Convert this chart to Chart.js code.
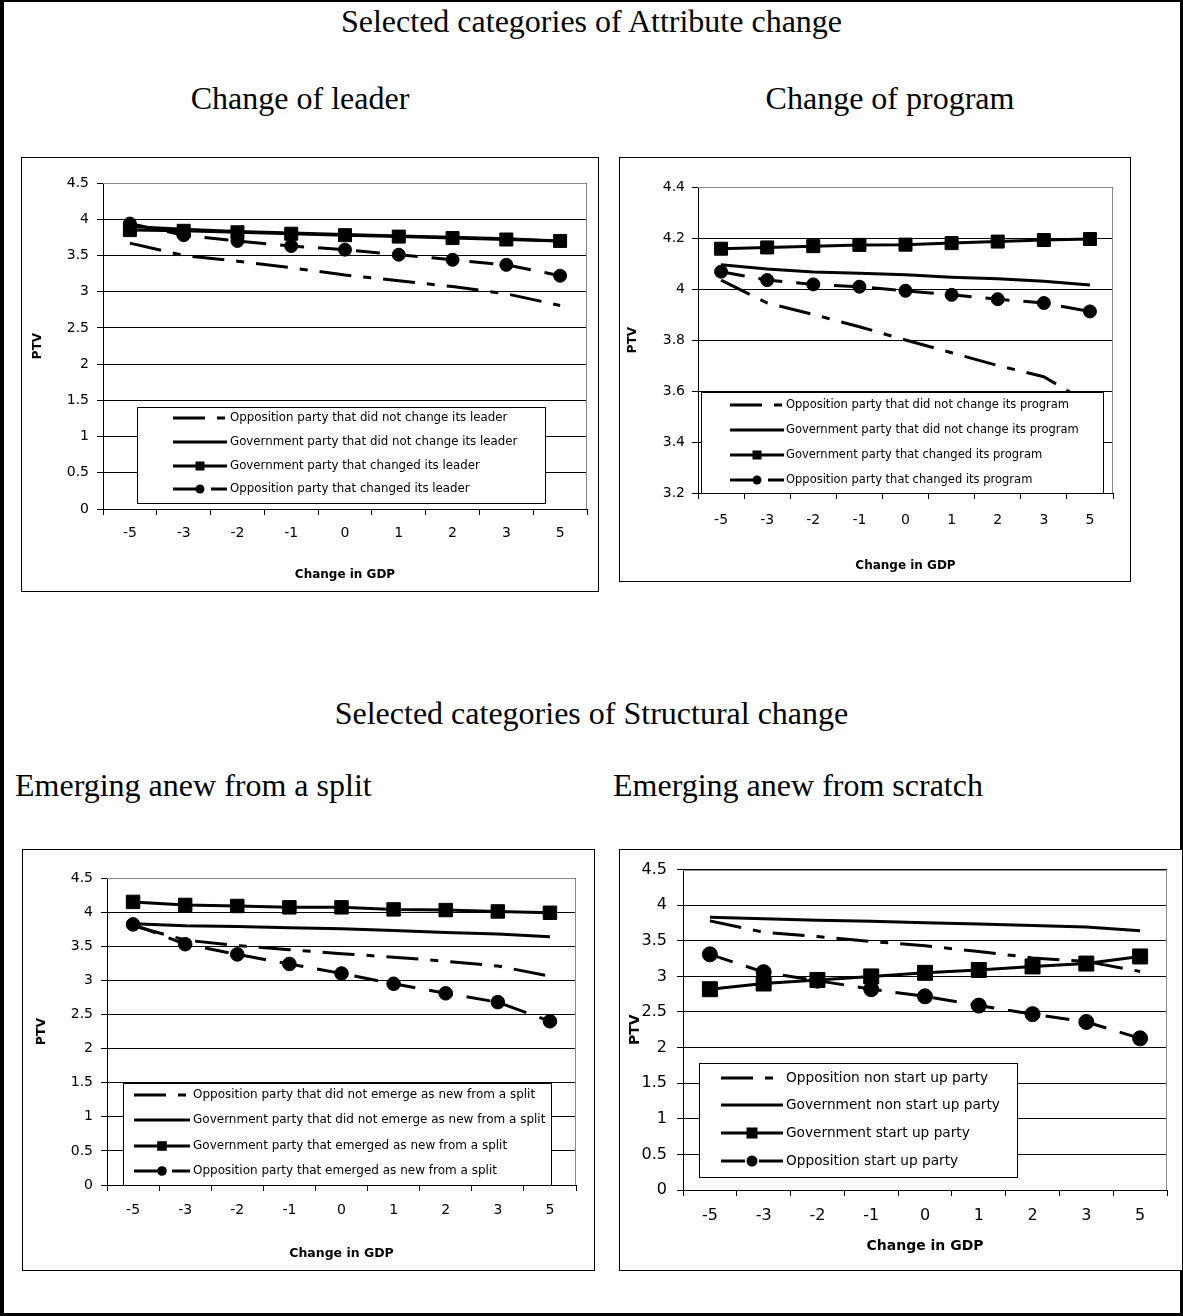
<!DOCTYPE html>
<html>
<head>
<meta charset="utf-8">
<script src="https://cdn.jsdelivr.net/npm/chart.js@4.4.1/dist/chart.umd.min.js"></script>
<style>
  html, body { margin: 0; padding: 0; background: #fff; }
  .page { position: relative; width: 1183px; height: 1316px; overflow: hidden; }
  .frame {
    position: absolute; left: 0; top: 0; width: 1183px; height: 1316px;
    box-sizing: border-box; border-style: solid; border-color: #000;
    border-width: 2px 3px 3px 4px;
  }
  .heading {
    position: absolute; white-space: nowrap; color: #000;
    font-family: 'Liberation Serif', 'Times New Roman', serif;
    font-size: 32px; line-height: 36px;
  }
  .centered { text-align: center; }
  .panel { position: absolute; box-sizing: border-box; border: 1px solid #000; background: #fff; }
  .panel canvas { position: absolute; left: 0; top: 0; }
</style>
</head>
<body>
<div class="page">
  <div class="frame"></div>

  <div class="heading centered" style="left:0; width:1183px; top:3px;">Selected categories of Attribute change</div>
  <div class="heading centered" style="left:100px; width:400px; top:80px;">Change of leader</div>
  <div class="heading centered" style="left:690px; width:400px; top:80px;">Change of program</div>

  <div class="heading centered" style="left:0; width:1183px; top:695px;">Selected categories of Structural change</div>
  <div class="heading" style="left:15px; top:767px;">Emerging anew from a split</div>
  <div class="heading" style="left:613px; top:767px;">Emerging anew from scratch</div>

  <div class="panel" id="panel-leader"><canvas id="leaderChart"></canvas></div>
  <div class="panel" id="panel-program"><canvas id="programChart"></canvas></div>
  <div class="panel" id="panel-split"><canvas id="splitChart"></canvas></div>
  <div class="panel" id="panel-scratch"><canvas id="scratchChart"></canvas></div>
</div>

<script>
// categories on the x axis (change in GDP)
const gdpLabels = ['-5', '-3', '-2', '-1', '0', '1', '2', '3', '5'];

// y axis tick values
const yTicksFull = [0, 0.5, 1, 1.5, 2, 2.5, 3, 3.5, 4, 4.5];
const yTicksProgram = [3.2, 3.4, 3.6, 3.8, 4, 4.2, 4.4];

// Change of leader
const leaderNames = [
  'Opposition party that did not change its leader',
  'Government party that did not change its leader',
  'Government party that changed its leader',
  'Opposition party that changed its leader'
];
const leaderOppNoChange = [3.67, 3.50, 3.42, 3.33, 3.23, 3.15, 3.07, 2.97, 2.81];
const leaderGovNoChange = [3.90, 3.86, 3.83, 3.81, 3.79, 3.77, 3.75, 3.73, 3.70];
const leaderGovChanged = [3.85, 3.84, 3.82, 3.80, 3.78, 3.76, 3.74, 3.72, 3.70];
const leaderOppChanged = [3.94, 3.78, 3.70, 3.63, 3.58, 3.51, 3.44, 3.37, 3.22];

// Change of program
const programNames = [
  'Opposition party that did not change its program',
  'Government party that did not change its program',
  'Government party that changed its program',
  'Opposition party that changed its program'
];
const programOppNoChange = [4.035, 3.945, 3.90, 3.852, 3.80, 3.75, 3.70, 3.656, 3.55];
const programGovNoChange = [4.095, 4.078, 4.067, 4.062, 4.056, 4.046, 4.040, 4.030, 4.016];
const programGovChanged = [4.158, 4.163, 4.168, 4.173, 4.174, 4.180, 4.186, 4.192, 4.196];
const programOppChanged = [4.068, 4.035, 4.018, 4.009, 3.993, 3.977, 3.960, 3.945, 3.912];

// Emerging anew from a split
const splitNames = [
  'Opposition party that did not emerge as new from a split',
  'Government party that did not emerge as new from a split',
  'Government party that emerged as new from a split',
  'Opposition party that emerged as new from a split'
];
const splitOppNoEmerge = [3.80, 3.59, 3.51, 3.45, 3.39, 3.34, 3.28, 3.21, 3.06];
const splitGovNoEmerge = [3.83, 3.80, 3.79, 3.77, 3.755, 3.73, 3.70, 3.68, 3.64];
const splitGovEmerged = [4.15, 4.105, 4.09, 4.07, 4.07, 4.04, 4.03, 4.01, 3.99];
const splitOppEmerged = [3.82, 3.53, 3.38, 3.24, 3.10, 2.95, 2.81, 2.68, 2.40];

// Emerging anew from scratch
const scratchNames = [
  'Opposition non start up party',
  'Government non start up party',
  'Government start up party',
  'Opposition start up party'
];
const scratchOppNonStartup = [3.78, 3.62, 3.56, 3.49, 3.43, 3.35, 3.26, 3.21, 3.07];
const scratchGovNonStartup = [3.83, 3.81, 3.79, 3.775, 3.755, 3.735, 3.715, 3.695, 3.64];
const scratchGovStartup = [2.82, 2.90, 2.95, 3.00, 3.05, 3.09, 3.14, 3.18, 3.28];
const scratchOppStartup = [3.31, 3.06, 2.94, 2.82, 2.72, 2.59, 2.47, 2.36, 2.13];

const FONT = 'DejaVu Sans';

// line look of the four series, same order in every panel
const seriesStyles = [
  { dash: [32, 12, 8, 12], marker: null },
  { dash: [], marker: null },
  { dash: [], marker: 'rect' },
  { dash: [24, 14], marker: 'circle' }
];

// page layout of each panel (page pixel coordinates)
const panels = [
  {
    canvas: 'leaderChart', holder: 'panel-leader',
    names: leaderNames,
    series: [leaderOppNoChange, leaderGovNoChange, leaderGovChanged, leaderOppChanged],
    yTicks: yTicksFull,
    box: { x: 21, y: 157, w: 578, h: 435 },
    area: { left: 103, top: 183, right: 587, bottom: 509 },
    ptvX: 38, xTickY: 533, xTitleY: 575,
    tickSize: 14, titleSize: 12, yTickPad: 8,
    marker: { rect: 9.2, circle: 6.5 },
    legend: { x: 137, y: 407, w: 409, h: 97, rows: [418, 442, 466, 489], sampleX: 173, sampleW: 54, textX: 230, size: 11.8, rect: 4.5, circle: 4.5 }
  },
  {
    canvas: 'programChart', holder: 'panel-program',
    names: programNames,
    series: [programOppNoChange, programGovNoChange, programGovChanged, programOppChanged],
    yTicks: yTicksProgram,
    box: { x: 619, y: 157, w: 512, h: 425 },
    area: { left: 698, top: 187, right: 1113, bottom: 493 },
    ptvX: 633, xTickY: 520, xTitleY: 566,
    tickSize: 14, titleSize: 12, yTickPad: 7,
    marker: { rect: 9.2, circle: 6.5 },
    legend: { x: 701, y: 392, w: 403, h: 102, rows: [405, 430, 455, 480], sampleX: 730, sampleW: 54, textX: 786, size: 11.5, rect: 4.5, circle: 4.5 }
  },
  {
    canvas: 'splitChart', holder: 'panel-split',
    names: splitNames,
    series: [splitOppNoEmerge, splitGovNoEmerge, splitGovEmerged, splitOppEmerged],
    yTicks: yTicksFull,
    box: { x: 22, y: 849, w: 573, h: 422 },
    area: { left: 107, top: 878, right: 576, bottom: 1185 },
    ptvX: 42, xTickY: 1210, xTitleY: 1254,
    tickSize: 14, titleSize: 12.5, yTickPad: 8,
    marker: { rect: 9.5, circle: 6.8 },
    legend: { x: 123, y: 1083, w: 429, h: 103, rows: [1095, 1120, 1146, 1171], sampleX: 134, sampleW: 56, textX: 193, size: 12, rect: 4.8, circle: 4.8 }
  },
  {
    canvas: 'scratchChart', holder: 'panel-scratch',
    names: scratchNames,
    series: [scratchOppNonStartup, scratchGovNonStartup, scratchGovStartup, scratchOppStartup],
    yTicks: yTicksFull,
    box: { x: 619, y: 849, w: 564, h: 422 },
    area: { left: 683, top: 867, right: 1167, bottom: 1190 },
    ptvX: 635, xTickY: 1216, xTitleY: 1246,
    tickSize: 16, titleSize: 14, yTickPad: 10,
    marker: { rect: 10.6, circle: 7.5 },
    legend: { x: 699, y: 1063, w: 319, h: 115, rows: [1078, 1105, 1133, 1161], sampleX: 721, sampleW: 62, textX: 786, size: 13.7, rect: 5.5, circle: 5.5 }
  }
];

function formatTick(value) {
  return String(Number(value.toFixed(1)));
}

// gray top/right edge of the plot area, as in the spreadsheet original
const plotFrame = {
  id: 'plotFrame',
  beforeDatasetsDraw(chart) {
    const { ctx, chartArea: a } = chart;
    const top = Math.round(a.top) + 0.5;
    const right = Math.round(a.right) - 0.5;
    ctx.save();
    ctx.strokeStyle = '#8a8a8a';
    ctx.lineWidth = 1;
    ctx.beginPath();
    ctx.moveTo(a.left, top);
    ctx.lineTo(right, top);
    ctx.lineTo(right, a.bottom);
    ctx.stroke();
    ctx.restore();
  }
};

function makeLegend(panel, ox, oy) {
  const L = panel.legend;
  return {
    id: 'boxLegend',
    afterDatasetsDraw(chart) {
      const { ctx } = chart;
      const x = L.x - ox;
      const y = L.y - oy;
      ctx.save();
      ctx.fillStyle = '#fff';
      ctx.fillRect(x, y, L.w, L.h);
      ctx.strokeStyle = '#000';
      ctx.lineWidth = 1;
      ctx.strokeRect(x + 0.5, y + 0.5, L.w - 1, L.h - 1);

      chart.data.datasets.forEach((ds, i) => {
        const rowY = L.rows[i] - oy;
        const sx = L.sampleX - ox;
        ctx.setLineDash(ds.borderDash || []);
        ctx.lineWidth = ds.borderWidth;
        ctx.strokeStyle = ds.borderColor;
        ctx.beginPath();
        ctx.moveTo(sx, rowY);
        ctx.lineTo(sx + L.sampleW, rowY);
        ctx.stroke();
        ctx.setLineDash([]);

        const mx = sx + L.sampleW / 2;
        ctx.fillStyle = '#000';
        if (seriesStyles[i].marker === 'rect') {
          ctx.fillRect(mx - L.rect, rowY - L.rect, L.rect * 2, L.rect * 2);
        } else if (seriesStyles[i].marker === 'circle') {
          ctx.beginPath();
          ctx.arc(mx, rowY, L.circle, 0, Math.PI * 2);
          ctx.fill();
        }

        ctx.font = `${L.size}px '${FONT}'`;
        ctx.textBaseline = 'middle';
        ctx.textAlign = 'left';
        ctx.fillText(ds.label, L.textX - ox, rowY);
      });
      ctx.restore();
    }
  };
}

function buildDatasets(panel) {
  return panel.series.map((values, i) => {
    const style = seriesStyles[i];
    let radius = 0;
    if (style.marker === 'rect') radius = panel.marker.rect;
    if (style.marker === 'circle') radius = panel.marker.circle;
    return {
      label: panel.names[i],
      data: values,
      borderColor: '#000',
      backgroundColor: '#000',
      borderWidth: 3,
      borderDash: style.dash,
      borderJoinStyle: 'round',
      tension: 0,
      fill: false,
      pointStyle: style.marker || 'circle',
      pointRadius: radius,
      pointHoverRadius: radius,
      pointBackgroundColor: '#000',
      pointBorderColor: '#000',
      pointBorderWidth: 1,
      order: -i
    };
  });
}

function drawPanel(panel) {
  const holder = document.getElementById(panel.holder);
  holder.style.left = panel.box.x + 'px';
  holder.style.top = panel.box.y + 'px';
  holder.style.width = panel.box.w + 'px';
  holder.style.height = panel.box.h + 'px';

  const ox = panel.box.x + 1;
  const oy = panel.box.y + 1;
  const cw = panel.box.w - 2;
  const ch = panel.box.h - 2;
  const canvas = document.getElementById(panel.canvas);
  canvas.width = cw;
  canvas.height = ch;

  const titleLH = panel.titleSize * 1.2;
  const tickLH = panel.tickSize * 1.2;
  const padLeft = panel.ptvX - ox - titleLH / 2;
  const yWidth = panel.area.left - ox - padLeft;
  const padBottom = (oy + ch) - (panel.xTitleY + titleLH / 2);
  const xHeight = (oy + ch - padBottom) - panel.area.bottom;
  const padTop = panel.area.top - oy;
  const padRight = ox + cw - panel.area.right;
  const xTickPad = panel.xTickY - panel.area.bottom - 6 - tickLH / 2;

  const yTicks = panel.yTicks;

  return new Chart(canvas.getContext('2d'), {
    type: 'line',
    data: {
      labels: gdpLabels,
      datasets: buildDatasets(panel)
    },
    options: {
      responsive: false,
      animation: false,
      devicePixelRatio: 1,
      events: [],
      layout: {
        padding: { left: padLeft, right: padRight, top: padTop, bottom: padBottom }
      },
      scales: {
        x: {
          type: 'category',
          offset: true,
          grid: {
            display: true,
            drawOnChartArea: false,
            drawTicks: true,
            tickLength: 6,
            offset: true,
            color: '#000'
          },
          border: { display: true, color: '#000', width: 1 },
          ticks: {
            color: '#000',
            font: { family: FONT, size: panel.tickSize },
            padding: xTickPad,
            maxRotation: 0,
            autoSkip: false
          },
          title: {
            display: true,
            text: 'Change in GDP',
            color: '#000',
            font: { family: FONT, size: panel.titleSize, weight: 'bold' },
            padding: 0
          },
          afterFit(scale) {
            scale.height = xHeight;
          }
        },
        y: {
          min: yTicks[0],
          max: yTicks[yTicks.length - 1],
          afterBuildTicks(scale) {
            scale.ticks = yTicks.map(v => ({ value: v }));
          },
          grid: { color: '#000', lineWidth: 1, drawTicks: true, tickLength: 6 },
          border: { display: true, color: '#000', width: 1 },
          ticks: {
            color: '#000',
            font: { family: FONT, size: panel.tickSize },
            padding: panel.yTickPad,
            callback: value => formatTick(value)
          },
          title: {
            display: true,
            text: 'PTV',
            color: '#000',
            font: { family: FONT, size: panel.titleSize, weight: 'bold' },
            padding: 0
          },
          afterFit(scale) {
            scale.width = yWidth;
          }
        }
      },
      plugins: {
        legend: { display: false },
        tooltip: { enabled: false }
      }
    },
    plugins: [plotFrame, makeLegend(panel, ox, oy)]
  });
}

panels.forEach(drawPanel);
</script>
</body>
</html>
